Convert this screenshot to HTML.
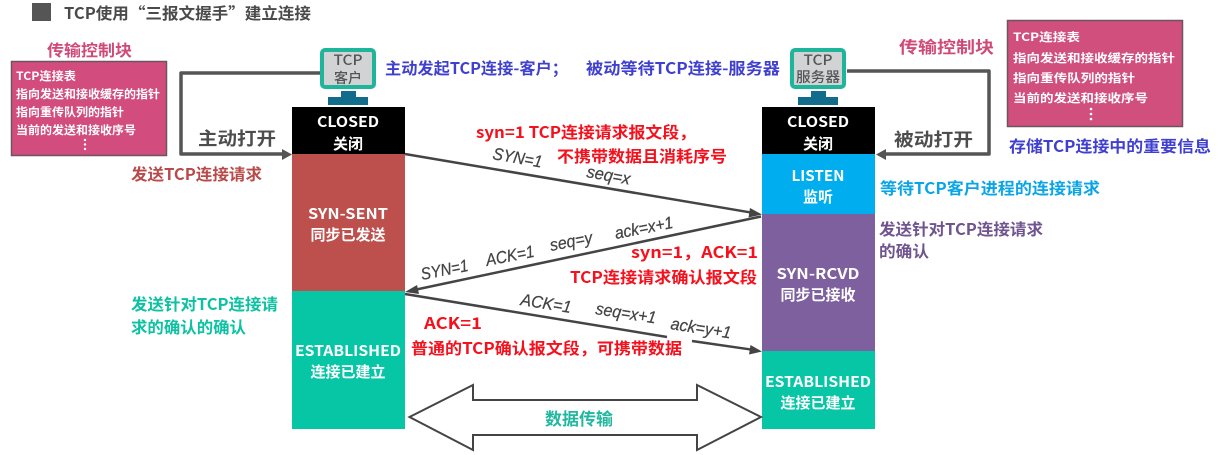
<!DOCTYPE html>
<html><head><meta charset="utf-8"><style>
html,body{margin:0;padding:0;background:#fff;width:1218px;height:455px;overflow:hidden}
svg{display:block}
text{font-family:"Noto Sans CJK SC","Liberation Sans",sans-serif;font-weight:700}
.cjk{font-family:"Noto Sans CJK SC","Liberation Sans",sans-serif;font-weight:700}
.w{fill:#fff;text-anchor:middle}
.p{fill:#fff;font-size:11.5px}
.g{fill:#444;font-family:"Liberation Sans",sans-serif;font-weight:400;font-style:italic;font-size:17px;stroke:#444;stroke-width:.25px}
.r{fill:#f5101c;font-size:16px}
</style></head><body>
<svg width="1218" height="455" viewBox="0 0 1218 455" xmlns="http://www.w3.org/2000/svg">
<rect width="1218" height="455" fill="#fff"/>
<rect x="32" y="3" width="19" height="18" fill="#555"/>
<text class="cjk" x="64" y="19" font-size="16" fill="#4a4a4a" textLength="247" lengthAdjust="spacingAndGlyphs">TCP使用“三报文握手”建立连接</text>

<!-- left block -->
<text class="cjk" x="47" y="56" font-size="16" fill="#cf4a78" textLength="85" lengthAdjust="spacingAndGlyphs">传输控制块</text>
<rect x="11.500" y="61.500" width="155" height="94" fill="#d24c7d" stroke="#6b5560" stroke-width="1.500"/>
<text class="p" x="16" y="80" textLength="60" lengthAdjust="spacingAndGlyphs">TCP连接表</text>
<text class="p" x="16" y="98" textLength="144" lengthAdjust="spacingAndGlyphs">指向发送和接收缓存的指针</text>
<text class="p" x="16" y="116" textLength="108" lengthAdjust="spacingAndGlyphs">指向重传队列的指针</text>
<text class="p" x="16" y="134" textLength="120" lengthAdjust="spacingAndGlyphs">当前的发送和接收序号</text>
<g fill="#fff"><circle cx="85" cy="140" r="1.200"/><circle cx="85" cy="144.500" r="1.200"/><circle cx="85" cy="149" r="1.200"/></g>

<!-- right block -->
<text class="cjk" x="899" y="53" font-size="16.500" fill="#cf4a78" textLength="95" lengthAdjust="spacingAndGlyphs">传输控制块</text>
<rect x="1007.500" y="20.500" width="175" height="106" fill="#d04f7c" stroke="#6b5560" stroke-width="1.500"/>
<text class="p" x="1013" y="41" font-size="12" textLength="67" lengthAdjust="spacingAndGlyphs">TCP连接表</text>
<text class="p" x="1013" y="62" textLength="162" lengthAdjust="spacingAndGlyphs">指向发送和接收缓存的指针</text>
<text class="p" x="1013" y="82" textLength="122" lengthAdjust="spacingAndGlyphs">指向重传队列的指针</text>
<text class="p" x="1013" y="102" textLength="135" lengthAdjust="spacingAndGlyphs">当前的发送和接收序号</text>
<g fill="#fff"><circle cx="1091" cy="109" r="1.300"/><circle cx="1091" cy="114" r="1.300"/><circle cx="1091" cy="119" r="1.300"/></g>

<!-- open arrows -->
<path d="M320 73H181V154H283" fill="none" stroke="#555" stroke-width="3.500" stroke-linejoin="round"/>
<path d="M282 149L292 154.500L282 160Z" fill="#555"/>
<path d="M847 71H989V154H884" fill="none" stroke="#555" stroke-width="3.500" stroke-linejoin="round"/>
<path d="M886 149L876 154.500L886 160Z" fill="#555"/>
<text class="cjk" x="198" y="145" font-size="18" fill="#4d4d4d" textLength="78" lengthAdjust="spacingAndGlyphs">主动打开</text>
<text class="cjk" x="894" y="146" font-size="18" fill="#4d4d4d" textLength="79" lengthAdjust="spacingAndGlyphs">被动打开</text>

<!-- monitors -->
<rect x="322" y="50" width="52" height="37" rx="3" fill="#d2d3d5" stroke="#1fb59b" stroke-width="4"/>
<rect x="341" y="91" width="15" height="7" fill="#126c8c"/><rect x="328" y="97" width="40" height="8" fill="#126c8c"/>
<text x="348" y="65" class="cjk" font-size="14" fill="#555" text-anchor="middle" textLength="29" lengthAdjust="spacingAndGlyphs" style="font-weight:500">TCP</text>
<text x="348" y="83" class="cjk" font-size="14" fill="#555" text-anchor="middle" style="font-weight:500">客户</text>
<rect x="792" y="50" width="52" height="37" rx="3" fill="#d2d3d5" stroke="#1fb59b" stroke-width="4"/>
<rect x="811" y="91" width="15" height="7" fill="#126c8c"/><rect x="798" y="97" width="40" height="8" fill="#126c8c"/>
<text x="818" y="65" class="cjk" font-size="14" fill="#555" text-anchor="middle" textLength="29" lengthAdjust="spacingAndGlyphs" style="font-weight:500">TCP</text>
<text x="818" y="82" class="cjk" font-size="14" fill="#555" text-anchor="middle" style="font-weight:500" textLength="44" lengthAdjust="spacingAndGlyphs">服务器</text>

<!-- left column -->
<rect x="292" y="107" width="113" height="47" fill="#000"/>
<rect x="292" y="154" width="113" height="137" fill="#bd4f4d"/>
<rect x="292" y="291" width="113" height="138" fill="#07c6a6"/>
<!-- right column -->
<rect x="762" y="107" width="113" height="47" fill="#000"/>
<rect x="762" y="154" width="113" height="60" fill="#00aeef"/>
<rect x="762" y="214" width="113" height="137" fill="#7f609f"/>
<rect x="762" y="351" width="113" height="78" fill="#07c6a6"/>

<text class="w" x="348" y="127" font-size="15" textLength="62" lengthAdjust="spacingAndGlyphs">CLOSED</text>
<text class="w" x="348" y="149" font-size="15">关闭</text>
<text class="w" x="348" y="219" font-size="15" textLength="80" lengthAdjust="spacingAndGlyphs">SYN-SENT</text>
<text class="w" x="348" y="240" font-size="15">同步已发送</text>
<text class="w" x="348" y="356" font-size="15" textLength="106" lengthAdjust="spacingAndGlyphs">ESTABLISHED</text>
<text class="w" x="348" y="377" font-size="15">连接已建立</text>

<text class="w" x="818" y="127" font-size="15" textLength="62" lengthAdjust="spacingAndGlyphs">CLOSED</text>
<text class="w" x="818" y="149" font-size="15">关闭</text>
<text class="w" x="818" y="181" font-size="15" textLength="53" lengthAdjust="spacingAndGlyphs">LISTEN</text>
<text class="w" x="818" y="202" font-size="15">监听</text>
<text class="w" x="818" y="279" font-size="15" textLength="83" lengthAdjust="spacingAndGlyphs">SYN-RCVD</text>
<text class="w" x="818" y="300" font-size="15">同步已接收</text>
<text class="w" x="818" y="387" font-size="15" textLength="106" lengthAdjust="spacingAndGlyphs">ESTABLISHED</text>
<text class="w" x="818" y="408" font-size="15">连接已建立</text>

<!-- message arrows -->
<g stroke="#444" stroke-width="2.500" fill="none">
<path d="M405 154L752 212.700"/>
<path d="M761 216.500L414 290"/>
<path d="M405 294L667 337"/><path d="M692 341L753 349.800"/>
</g>
<g fill="#444">
<path d="M762 214.500L748.500 217.500L750 208Z"/>
<path d="M405 292L417 285L419 294Z"/>
<path d="M762 351.500L749 354.500L750.500 345Z"/>
</g>

<!-- double arrow -->
<path d="M409.500 417L473 385V400H697V385L761 417L697 450V435H473V450Z" fill="#fff" stroke="#444" stroke-width="2"/>
<text class="cjk" x="545" y="425" font-size="17" fill="#22b8a0" textLength="68" lengthAdjust="spacingAndGlyphs">数据传输</text>

<!-- italic labels -->
<text class="g" transform="translate(492 159) rotate(10)" textLength="50" lengthAdjust="spacingAndGlyphs">SYN=1</text>
<text class="g" transform="translate(586 177) rotate(10)" textLength="44" lengthAdjust="spacingAndGlyphs">seq=x</text>
<text class="g" transform="translate(422 280) rotate(-11)" textLength="48" lengthAdjust="spacingAndGlyphs">SYN=1</text>
<text class="g" transform="translate(487 266) rotate(-11)" textLength="49" lengthAdjust="spacingAndGlyphs">ACK=1</text>
<text class="g" transform="translate(551 251) rotate(-11)" textLength="43" lengthAdjust="spacingAndGlyphs">seq=y</text>
<text class="g" transform="translate(616 239) rotate(-11)" textLength="59" lengthAdjust="spacingAndGlyphs">ack=x+1</text>
<text class="g" transform="translate(520 305) rotate(9)" textLength="51" lengthAdjust="spacingAndGlyphs">ACK=1</text>
<text class="g" transform="translate(595 314) rotate(9)" textLength="61" lengthAdjust="spacingAndGlyphs">seq=x+1</text>
<text class="g" transform="translate(670 329) rotate(9)" textLength="61" lengthAdjust="spacingAndGlyphs">ack=y+1</text>

<!-- red notes -->
<text class="r" x="476" y="138" textLength="220" lengthAdjust="spacingAndGlyphs">syn=1 TCP连接请求报文段，</text>
<text class="r" x="557" y="162" textLength="170" lengthAdjust="spacingAndGlyphs">不携带数据且消耗序号</text>
<text class="r" x="631" y="258" textLength="127" lengthAdjust="spacingAndGlyphs">syn=1，ACK=1</text>
<text class="r" x="570" y="283" textLength="187" lengthAdjust="spacingAndGlyphs">TCP连接请求确认报文段</text>
<text class="r" x="424" y="329" textLength="58" lengthAdjust="spacingAndGlyphs">ACK=1</text>
<text class="r" x="411" y="354" textLength="271" lengthAdjust="spacingAndGlyphs">普通的TCP确认报文段，可携带数据</text>

<!-- coloured notes -->
<text x="385" y="74" font-size="16" fill="#3f3fd0" textLength="183" lengthAdjust="spacingAndGlyphs">主动发起TCP连接-客户；</text>
<text x="586" y="74" font-size="16" fill="#3f3fd0" textLength="194" lengthAdjust="spacingAndGlyphs">被动等待TCP连接-服务器</text>
<text x="1009" y="152" font-size="16" fill="#3f3fd0" textLength="202" lengthAdjust="spacingAndGlyphs">存储TCP连接中的重要信息</text>
<text x="131" y="180" font-size="16" fill="#b84a4a" textLength="131" lengthAdjust="spacingAndGlyphs">发送TCP连接请求</text>
<text x="880" y="194" font-size="16" fill="#0aa5e6" textLength="220" lengthAdjust="spacingAndGlyphs">等待TCP客户进程的连接请求</text>
<text x="879" y="235" font-size="16" fill="#6f5490" textLength="164" lengthAdjust="spacingAndGlyphs">发送针对TCP连接请求</text>
<text x="879" y="257" font-size="16" fill="#6f5490" textLength="50" lengthAdjust="spacingAndGlyphs">的确认</text>
<text x="131" y="310" font-size="16" fill="#0cc2a2" textLength="147" lengthAdjust="spacingAndGlyphs">发送针对TCP连接请</text>
<text x="131" y="333" font-size="16" fill="#0cc2a2" textLength="115" lengthAdjust="spacingAndGlyphs">求的确认的确认</text>
</svg>
</body></html>
